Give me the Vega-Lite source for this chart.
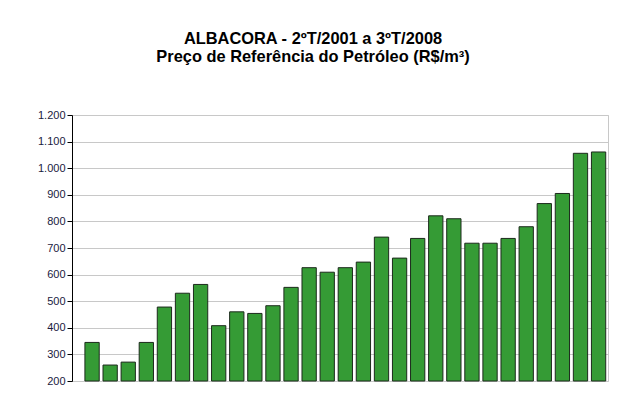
{
  "$schema": "https://vega.github.io/schema/vega-lite/v6.json",
  "width": 536,
  "height": 266,
  "autosize": {"type": "none"},
  "padding": {"left": 72, "top": 115, "right": 18, "bottom": 33},
  "background": "white",
  "title": {
    "text": ["ALBACORA - 2ºT/2001 a 3ºT/2008", "Preço de Referência do Petróleo (R$/m³)"],
    "anchor": "middle",
    "frame": "group",
    "dx": -27,
    "offset": 44,
    "font": "Liberation Sans",
    "fontSize": 16.4,
    "fontWeight": "bold",
    "color": "#000000",
    "lineHeight": 18
  },
  "data": {
    "values": [
      {"n": 1, "v": 345}, {"n": 2, "v": 260}, {"n": 3, "v": 271}, {"n": 4, "v": 345},
      {"n": 5, "v": 478}, {"n": 6, "v": 530}, {"n": 7, "v": 563}, {"n": 8, "v": 408},
      {"n": 9, "v": 460}, {"n": 10, "v": 454}, {"n": 11, "v": 483}, {"n": 12, "v": 552},
      {"n": 13, "v": 626}, {"n": 14, "v": 609}, {"n": 15, "v": 626}, {"n": 16, "v": 647},
      {"n": 17, "v": 741}, {"n": 18, "v": 662}, {"n": 19, "v": 736}, {"n": 20, "v": 821},
      {"n": 21, "v": 810}, {"n": 22, "v": 718}, {"n": 23, "v": 718}, {"n": 24, "v": 736},
      {"n": 25, "v": 780}, {"n": 26, "v": 867}, {"n": 27, "v": 905}, {"n": 28, "v": 1056},
      {"n": 29, "v": 1061}
    ]
  },
  "mark": {"type": "bar", "fill": "#359b35", "stroke": "#1c2a1c", "strokeWidth": 1},
  "encoding": {
    "x": {
      "field": "n",
      "type": "ordinal",
      "scale": {"paddingInner": 0.21, "paddingOuter": 0.42, "align": 0.85},
      "axis": null
    },
    "y": {
      "field": "v",
      "type": "quantitative",
      "scale": {"domain": [200, 1200], "zero": false, "nice": false},
      "axis": {
        "title": null,
        "values": [200, 300, 400, 500, 600, 700, 800, 900, 1000, 1100, 1200],
        "labelExpr": "replace(format(datum.value, ','), ',', '.')",
        "labelFont": "Liberation Sans",
        "labelFontSize": 11,
        "labelColor": "#1a1a40",
        "labelPadding": 2,
        "domainColor": "#000000",
        "domainWidth": 1,
        "tickColor": "#000000",
        "tickSize": 5,
        "gridColor": "#c8c8c8",
        "gridWidth": 1
      }
    },
    "y2": {"datum": 200}
  },
  "config": {
    "view": {"stroke": "#c8c8c8", "strokeWidth": 1}
  }
}
